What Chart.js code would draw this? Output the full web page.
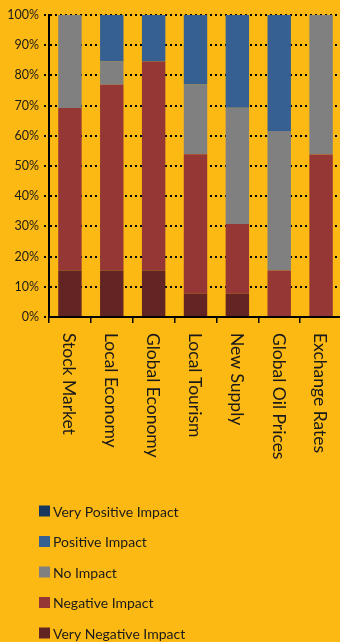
<!DOCTYPE html>
<html>
<head>
<meta charset="utf-8">
<script src="https://cdn.jsdelivr.net/npm/chart.js@4"></script>
<style>
  html, body { margin: 0; padding: 0; background: #FDB913; overflow: hidden; }
  #wrap { position: absolute; left: 0; top: 0; width: 342px; height: 642px; }
</style>
</head>
<body>
<div id="wrap"><canvas id="chart"></canvas></div>
<script>
// data (percent of respondents, 13 responses each)
var categories = ['Stock Market', 'Local Economy', 'Global Economy', 'Local Tourism', 'New Supply', 'Global Oil Prices', 'Exchange Rates'];
var veryNegative = [15.4, 15.4, 15.4, 7.7, 7.7, 0, 0];
var negative     = [53.8, 61.5, 69.2, 46.2, 23.1, 15.4, 53.8];
var noImpact     = [30.8, 7.7, 0, 23.1, 38.5, 46.2, 46.2];
var positive     = [0, 15.4, 15.4, 23.1, 30.8, 38.5, 0];
var veryPositive = [0, 0, 0, 0, 0, 0, 0];
var yTicks = [0, 10, 20, 30, 40, 50, 60, 70, 80, 90, 100];

var ink = '#1a1a1a';
var font = 'Lato, "DejaVu Sans", sans-serif';

// x labels drawn rotated clockwise, legend as a vertical list
var extras = {
  id: 'extras',
  afterDraw: function(chart) {
    var c = chart.ctx, xs = chart.scales.x;
    c.save();
    c.fillStyle = ink;
    c.font = '17.5px ' + font;
    c.textAlign = 'left';
    c.textBaseline = 'middle';
    categories.forEach(function(lab, i) {
      c.save();
      c.translate(xs.getPixelForValue(i) - 1, xs.bottom - 309);
      c.rotate(Math.PI / 2);
      c.fillText(lab, 0, 0);
      c.restore();
    });
    var ds = chart.data.datasets.slice().reverse();
    c.font = '14px ' + font;
    ds.forEach(function(d, i) {
      var y = 511 + i * 30.5;
      c.fillStyle = d.backgroundColor;
      c.fillRect(39, y - 5.5, 11, 11);
      c.fillStyle = ink;
      c.fillText(d.label, 53, y + 1);
    });
    c.restore();
  }
};

new Chart(document.getElementById('chart'), {
  type: 'bar',
  data: {
    labels: categories,
    datasets: [
      {label: 'Very Negative Impact', data: veryNegative, backgroundColor: '#632523'},
      {label: 'Negative Impact', data: negative, backgroundColor: '#953735'},
      {label: 'No Impact', data: noImpact, backgroundColor: '#808080'},
      {label: 'Positive Impact', data: positive, backgroundColor: '#376092'},
      {label: 'Very Positive Impact', data: veryPositive, backgroundColor: '#17375E'}
    ]
  },
  options: {
    responsive: true,
    maintainAspectRatio: false,
    animation: false,
    layout: {padding: {top: 15, right: 0, left: 0, bottom: 0}},
    datasets: {bar: {barPercentage: 0.56, categoryPercentage: 1.0}},
    plugins: {legend: {display: false}, tooltip: {enabled: false}},
    scales: {
      x: {
        stacked: true,
        offset: true,
        grid: {display: true, drawOnChartArea: false, offset: true, color: '#000', tickLength: 6, lineWidth: 1.5},
        border: {display: true, color: '#000', width: 2},
        ticks: {display: false},
        afterFit: function(s) { s.height = 325; }
      },
      y: {
        stacked: true,
        min: 0, max: 100,
        afterBuildTicks: function(s) { s.ticks = yTicks.map(function(v) { return {value: v}; }); },
        grid: {color: '#000', lineWidth: 2, tickBorderDash: [2, 3], tickLength: 5},
        border: {display: true, color: '#000', width: 2, dash: [2, 3]},
        ticks: {
          color: ink, padding: 5,
          font: {family: font, size: 12.5},
          callback: function(v) { return v + '%'; }
        },
        afterFit: function(s) { s.width = 49; }
      }
    }
  },
  plugins: [extras]
});
</script>
</body>
</html>
